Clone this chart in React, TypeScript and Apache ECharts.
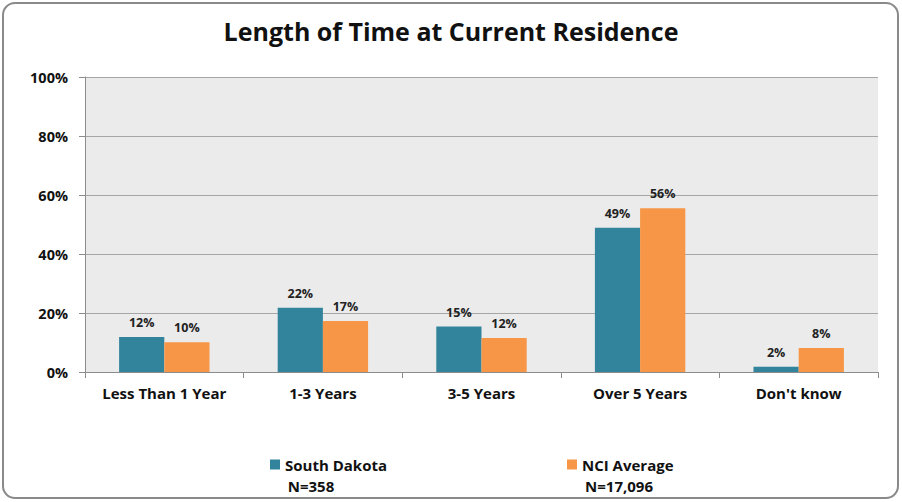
import React, { useEffect, useRef } from "react";
import * as echarts from "echarts";

const categories = ["Less Than 1 Year", "1-3 Years", "3-5 Years", "Over 5 Years", "Don't know"];
const southDakota = [11.9, 21.8, 15.4, 48.9, 1.8];
const nciAverage = [10.1, 17.3, 11.5, 55.5, 8.1];
const seriesNames = ["South Dakota", "NCI Average"];
const sampleSizes = ["N=358", "N=17,096"];
const yTicks = [0, 20, 40, 60, 80, 100];

const FONT = "'Open Sans', Lato, sans-serif";

export default function App() {
  const ref = useRef<HTMLDivElement>(null);
  useEffect(() => {
    if (!ref.current) return;
    const chart = echarts.init(ref.current, undefined, { renderer: "svg" });
    const labelCfg = {
      show: true,
      position: "top" as const,
      distance: 8,
      formatter: (p: any) => Math.round(p.value) + "%",
      fontFamily: FONT,
      fontWeight: "bold" as const,
      fontSize: 12.5,
      color: "#222",
    };
    chart.setOption({
      animation: false,
      backgroundColor: "#fff",
      title: {
        text: "Length of Time at Current Residence",
        left: "center",
        top: 13,
        textStyle: { fontFamily: FONT, fontWeight: "bold", fontSize: 25, color: "#111" },
      },
      grid: { left: 85, right: 24, top: 77, bottom: 130, containLabel: false },
      xAxis: {
        type: "category",
        data: categories,
        axisLine: { lineStyle: { color: "#8c8c8c" } },
        axisTick: { show: true, length: 6, lineStyle: { color: "#8c8c8c" } },
        axisLabel: {
          interval: 0,
          hideOverlap: false,
          fontFamily: FONT,
          fontWeight: "bold",
          fontSize: 15,
          color: "#111",
          margin: 13,
        },
      },
      yAxis: {
        type: "value",
        min: yTicks[0],
        max: yTicks[yTicks.length - 1],
        interval: 20,
        axisLine: { show: true, lineStyle: { color: "#8c8c8c" } },
        axisTick: { show: true, length: 6, lineStyle: { color: "#8c8c8c" } },
        splitLine: { lineStyle: { color: "#a6a6a6", width: 1 } },
        splitArea: { show: true, areaStyle: { color: ["#ebebeb", "#ebebeb"] } },
        axisLabel: {
          formatter: "{value}%",
          fontFamily: FONT,
          fontWeight: "bold",
          fontSize: 14.5,
          color: "#111",
          margin: 17,
        },
      },
      legend: {
        data: seriesNames,
        left: 265,
        top: 452,
        itemGap: 180,
        itemWidth: 10,
        itemHeight: 10,
        icon: "rect",
        textStyle: { fontFamily: FONT, fontWeight: "bold", fontSize: 15, color: "#111" },
      },
      series: [
        {
          name: seriesNames[0],
          type: "bar",
          data: southDakota,
          barGap: "0%",
          barCategoryGap: "43%",
          itemStyle: { color: "#31849B" },
          label: labelCfg,
        },
        {
          name: seriesNames[1],
          type: "bar",
          data: nciAverage,
          itemStyle: { color: "#F79646" },
          label: labelCfg,
        },
      ],
      graphic: [
        {
          type: "rect",
          shape: { x: 3, y: 3, width: 895, height: 495, r: 12 },
          style: { fill: "none", stroke: "#8a8a8a", lineWidth: 2 },
          silent: true,
        },
        {
          type: "text",
          x: 311,
          y: 486,
          style: {
            text: sampleSizes[0],
            fontFamily: FONT,
            fontWeight: "bold",
            fontSize: 15,
            fill: "#111",
            textAlign: "center",
            textVerticalAlign: "middle",
          },
        },
        {
          type: "text",
          x: 619,
          y: 486,
          style: {
            text: sampleSizes[1],
            fontFamily: FONT,
            fontWeight: "bold",
            fontSize: 15,
            fill: "#111",
            textAlign: "center",
            textVerticalAlign: "middle",
          },
        },
      ],
    });
    return () => chart.dispose();
  }, []);
  return (
    <div
      ref={ref}
      style={{ position: "fixed", left: 0, top: 0, width: 902, height: 502 }}
    />
  );
}
